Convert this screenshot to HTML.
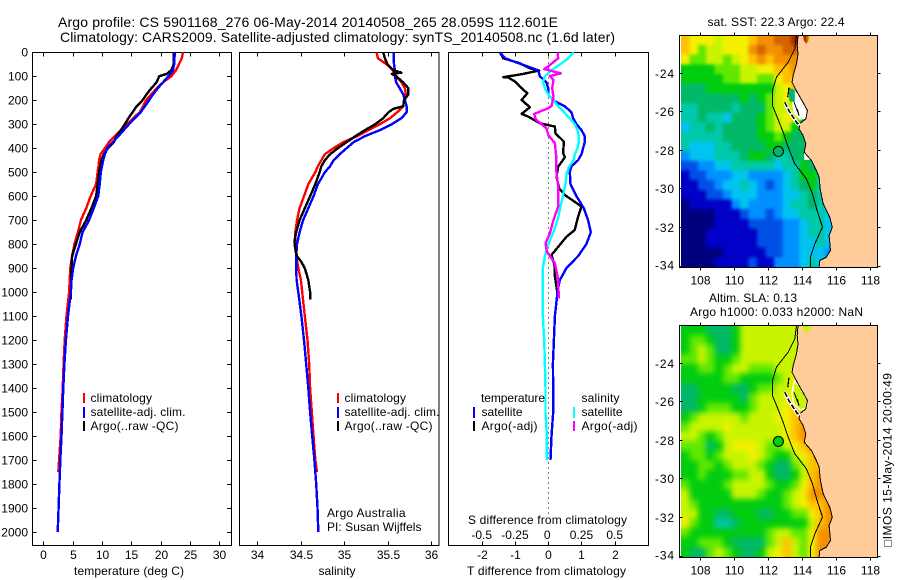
<!DOCTYPE html>
<html>
<head>
<meta charset="utf-8">
<title>Argo profile</title>
<style>
html,body{margin:0;padding:0;background:#fff;}
svg{display:block;}
text{font-family:"Liberation Sans",Arial,sans-serif;font-size:12px;fill:#000;}
</style>
</head>
<body>
<svg id="chart" width="900" height="580" viewBox="0 0 900 580" xmlns="http://www.w3.org/2000/svg">
<text x="58" y="27" style="font-size:14px" textLength="500">Argo profile: CS 5901168_276 06-May-2014 20140508_265 28.059S 112.601E</text>
<text x="60" y="42" style="font-size:14px" textLength="555">Climatology: CARS2009. Satellite-adjusted climatology: synTS_20140508.nc (1.6d later)</text>
<text x="74" y="575" textLength="110">temperature (deg C)</text>
<text x="318.5" y="575" textLength="37">salinity</text>
<text x="467" y="575" textLength="159">T difference from climatology</text>
<text x="468" y="524" textLength="159">S difference from climatology</text>
<text x="90.5" y="402" textLength="61.5">climatology</text>
<text x="90.5" y="416" textLength="95">satellite-adj. clim.</text>
<text x="90.5" y="430" textLength="88">Argo(..raw -QC)</text>
<text x="344.5" y="402" textLength="61.5">climatology</text>
<text x="344.5" y="416" textLength="95">satellite-adj. clim.</text>
<text x="344.5" y="430" textLength="88">Argo(..raw -QC)</text>
<text x="327" y="517" textLength="78.5">Argo Australia</text>
<text x="327" y="531" textLength="94.5">PI: Susan Wijffels</text>
<text x="481" y="402" textLength="64">temperature</text>
<text x="481.5" y="416" textLength="41">satellite</text>
<text x="481.5" y="430" textLength="56">Argo(-adj)</text>
<text x="581.5" y="402" textLength="38">salinity</text>
<text x="581.5" y="416" textLength="41">satellite</text>
<text x="581.5" y="430" textLength="56">Argo(-adj)</text>
<text x="707.5" y="26" textLength="137">sat. SST: 22.3 Argo: 22.4</text>
<text x="709" y="302" textLength="88">Altim. SLA: 0.13</text>
<text x="690" y="316" textLength="173">Argo h1000: 0.033 h2000: NaN</text>
<text transform="translate(891.5 547) rotate(-90)" textLength="174">□IMOS 15-May-2014 20:00:49</text>
</svg>
<script>
// ---- profile data ----
const depthTicks=[0,100,200,300,400,500,600,700,800,900,1000,1100,1200,1300,1400,1500,1600,1700,1800,1900,2000];
const tempTicks=[0,5,10,15,20,25,30];
const salTicks=[34,34.5,35,35.5,36];
const tDiffTicks=[-2,-1,0,1,2];
const sDiffTicks=[-0.5,-0.25,0,0.25,0.5];
const lonTicks=[108,110,112,114,116,118];
const latTicks=[-24,-26,-28,-30,-32,-34];

const climDepths=[0,25,50,75,100,125,150,175,200,225,250,275,300,325,350,375,400,425,450,475,500,550,600,650,700,750,800,850,900,950,1000,1100,1200,1300,1400,1500,1600,1700,1750,1800,1900,2000];
const climTemp=[23.8,23.6,23.1,22.6,21.8,20.4,19.3,18.4,17.5,17,16.4,15.3,14.3,13.2,12.2,11.2,10.5,9.75,9.5,9.4,9.25,9.0,8.05,7.3,6.4,5.9,5.3,4.9,4.6,4.5,4.4,3.95,3.65,3.45,3.3,3.1,2.96,2.7,2.55];
const satTemp=[22.4,22.35,22.3,22.1,21.3,20.4,19.5,18.7,18,17.3,16.6,15.6,14.6,13.7,12.8,11.8,10.9,10.5,10.2,10,9.8,9.6,9.35,8.6,7.8,6.7,6.2,5.55,5.1,4.8,4.7,4.2,3.85,3.6,3.4,3.25,3.1,2.9,2.82,2.75,2.6,2.45];
const climSal=[35.375,35.39,35.49,35.56,35.6,35.66,35.7,35.71,35.69,35.68,35.61,35.53,35.41,35.28,35.15,34.99,34.88,34.78,34.74,34.7,34.67,34.59,34.54,34.49,34.46,34.44,34.44,34.45,34.475,34.505,34.52,34.55,34.58,34.6,34.61,34.63,34.65,34.67,34.69];
const satSal=[35.57,35.57,35.575,35.585,35.585,35.6,35.64,35.68,35.7,35.72,35.72,35.66,35.55,35.41,35.24,35.11,35.03,34.95,34.88,34.84,34.78,34.7,34.65,34.59,34.53,34.49,34.46,34.45,34.45,34.455,34.475,34.51,34.54,34.565,34.59,34.61,34.635,34.66,34.67,34.68,34.695,34.705];
const argoTempDepths=[0,25,50,75,90,100,125,150,175,200,225,250,275,300,325,350,375,400,425,450,500,550,600,650,700,750,800,850,900,950,1000,1030];
const argoTemp=[22.2,22.2,22.2,21.8,21,19.75,19.3,18.4,17.6,16.9,15.9,15.2,14.5,13.9,13.2,12.5,12,11,10.3,9.9,9.5,9.25,9,8.2,7.3,6.2,5.55,4.9,4.8,4.75,4.7,4.65];
const argoSalDepths=[0,25,50,75,85,90,100,125,150,175,200,225,235,250,275,300,325,350,375,400,425,450,475,500,550,600,650,700,750,790,820,850,875,900,950,1000,1030];
const argoSal=[35.45,35.47,35.5,35.57,35.66,35.55,35.6,35.68,35.74,35.74,35.69,35.68,35.57,35.51,35.45,35.36,35.24,35.13,35.03,34.93,34.84,34.78,34.74,34.72,34.67,34.61,34.55,34.49,34.45,34.43,34.44,34.46,34.51,34.55,34.59,34.61,34.61];
const satTempDiff=[-1.45,-1.3,-0.8,-0.3,-0.25,-0.05,0,0,0.15,0.5,0.7,0.75,0.85,1,1.1,1.1,1.05,1,0.9,0.7,0.65,0.67,0.85,1.07,1.2,1.28,1.15,0.9,0.55,0.35,0.28,0.2,0.17,0.14,0.15,0.15,0.1,0.07];
const satSalDiff=[0.19,0.15,0.09,0.025,-0.025,-0.04,-0.025,0,0.04,0.075,0.12,0.16,0.2,0.22,0.23,0.23,0.22,0.2,0.19,0.16,0.14,0.13,0.11,0.09,0.07,0.04,0,-0.025,-0.04,-0.04,-0.04,-0.04,-0.03,-0.025,-0.02,-0.02,-0.01,-0.01];
const argoTempDiffDepths=[0,25,46,67,76,90,104,105,122,143,171,199,229,257,268,296,310,338,372,421,438,477,519,567,595,643,685,741,769,803,845,894,935,998,1025];
const argoTempDiff=[-1.45,-1.35,-0.85,-0.55,-0.27,-0.75,-1.35,-1.2,-1.0,-0.85,-0.63,-0.8,-0.55,-0.8,-0.6,-0.25,0.2,0.22,0.47,0.45,0.5,0.3,0.25,0.33,0.5,1.0,0.9,0.8,0.55,0.35,0.1,0.2,0.2,0.27,0.27];
const argoSalDiffDepths=[0,25,53,70,76,88,99,115,150,185,224,233,257,282,317,345,379,435,491,560,643,699,755,796,831,880,949,1026];
const argoSalDiff=[0.07,0.075,0.0125,-0.03,0.0125,0.095,0.0125,0.04,0.03,0.04,0.025,0,-0.105,-0.09,-0.0125,0,0.05,0.06,0.06,0.075,0.075,0.04,0.0125,-0.02,-0.01,0.05,0.075,0.08];

// ---- map data: colour-class per 0.5 degree cell, north to south ----
const sstGrid=[
[11,10,10,10,9,10,10,10,11,12,12,13,13,14,14,10,10,10],
[11,10,8,9,9,10,10,10,12,13,12,12,13,13,13,10,10,10],
[10,8,8,9,9,8,9,10,11,12,11,12,12,12,12,12,12,12],
[7,7,7,7,8,8,8,9,9,10,10,11,11,12,12,12,12,12],
[7,7,7,7,7,8,8,9,9,8,8,10,11,11,11,11,11,11],
[6,6,6,7,7,7,7,7,7,7,7,9,10,11,7,7,7,7],
[6,6,6,6,6,6,6,7,6,7,8,9,10,7,7,7,7,7],
[5,5,6,6,6,6,5,6,6,6,8,9,9,9,7,7,7,7],
[5,5,6,5,5,4,6,6,6,7,8,9,10,9,7,7,7,7],
[4,5,5,6,5,6,6,6,6,7,8,9,9,7,6,6,6,6],
[5,5,5,5,5,6,6,6,6,7,7,8,7,6,6,6,6,6],
[5,4,4,4,5,5,6,6,6,6,7,7,6,6,6,6,6,6],
[3,4,4,4,5,5,5,6,7,7,6,5,5,6,6,6,6,6],
[2,2,3,3,4,4,5,5,5,5,5,4,5,5,7,6,5,5],
[1,2,2,3,3,3,4,4,3,3,3,3,4,5,7,7,5,5],
[1,1,2,2,3,4,4,5,4,3,2,3,4,5,6,7,5,5],
[1,1,1,2,2,3,4,4,4,3,3,3,4,4,5,6,5,4],
[0,1,1,1,1,1,3,4,3,3,3,3,4,5,5,6,5,4],
[0,0,0,0,1,1,1,2,3,3,2,3,4,4,5,5,5,4],
[0,0,0,0,1,1,1,1,2,2,2,2,3,3,4,5,5,4],
[0,0,0,1,1,1,1,1,1,2,2,2,3,3,4,5,5,4],
[0,0,0,1,1,1,1,1,1,2,2,2,3,3,4,4,5,4],
[0,0,0,0,0,1,1,1,1,1,2,2,3,3,4,4,4,3],
[0,0,0,0,1,1,1,1,2,1,1,3,3,3,4,5,4,4]
];
const slaGrid=[
[7,7,7,6,6,6,7,9,9,9,9,9,9,9,9,9,9,9],
[7,8,8,7,6,6,7,9,9,9,9,9,9,9,9,9,9,9],
[7,8,9,8,6,6,7,9,9,9,9,9,9,9,9,9,9,9],
[8,8,9,8,7,7,8,9,9,9,9,9,9,9,9,9,9,9],
[7,7,8,8,7,8,9,9,8,8,8,9,9,9,9,9,9,9],
[7,7,7,7,7,8,8,7,7,7,7,8,9,10,9,9,9,9],
[6,6,7,7,7,7,6,6,7,8,8,9,9,10,9,9,9,9],
[6,6,7,7,7,7,7,6,8,9,9,9,10,10,10,9,9,9],
[6,6,7,8,8,8,7,7,8,9,9,9,10,11,10,9,9,9],
[7,8,9,9,9,9,9,8,9,9,9,10,10,11,11,11,11,11],
[8,9,9,9,9,10,9,9,9,9,9,9,10,11,12,12,12,12],
[9,9,8,7,8,9,9,9,9,9,9,9,10,11,12,12,12,12],
[8,8,8,6,7,9,10,10,10,9,8,8,9,10,11,12,12,12],
[7,8,8,7,8,9,9,9,10,9,8,7,7,9,10,11,12,12],
[7,7,8,8,7,8,9,9,9,8,7,6,6,8,9,11,11,12],
[7,7,8,7,7,7,8,8,9,9,7,6,6,7,9,11,12,12],
[8,7,7,7,7,8,9,9,9,9,8,7,7,8,10,11,12,12],
[9,7,7,7,7,7,9,9,9,8,7,7,8,9,10,12,12,12],
[9,8,7,7,7,7,7,7,7,7,7,7,8,9,10,11,11,12],
[9,9,7,7,6,6,7,7,7,6,6,7,7,8,8,10,11,12],
[10,8,7,7,5,5,6,7,7,7,7,7,7,7,7,9,11,12],
[8,7,7,7,7,7,7,7,7,7,8,9,9,8,8,10,12,12],
[7,7,8,8,8,7,6,6,6,6,8,9,11,9,8,10,12,12],
[7,6,6,8,9,8,7,6,6,7,9,10,11,9,8,10,12,12]
];
const gridPalette=['#00007f','#0000c8','#0050e6','#0090ff','#00c4f0','#00c8a8','#00b868','#00cc10','#60e800','#c8f400','#f4f000','#ffc000','#f49000','#d46400','#b02800'];
const sstArgoClass=6;
const slaArgoClass=7;
const argoLon=112.601;
const argoLat=-28.059;
const coastLon=[113.76,113.71,113.76,113.67,113.47,113.41,113.57,113.82,114.1,114.31,114.22,113.86,113.82,114.06,114.22,114.12,114.55,114.84,115.0,115.08,115.24,115.63,115.78,115.59,115.67,115.43,115.04,115.0];
const coastLat=[-22.08,-22.6,-23.03,-23.55,-24.16,-24.5,-24.79,-25.19,-25.62,-25.97,-26.4,-26.66,-26.92,-27.26,-27.7,-28.13,-28.56,-29.08,-29.42,-30.11,-30.8,-31.5,-32.01,-32.45,-33.22,-33.57,-33.74,-34.09];
const landEdgeLon=[118.41,118.41,114.55,114.39,114.25,114.1,114.06];
const landEdgeLat=[-34.09,-22.08,-22.08,-22.34,-22.51,-22.34,-22.08];
const contourLon=[113.67,113.57,113.18,112.49,112.25,112.25,112.53,112.88,113.18,113.57,114.25,114.61,114.88,115.2,114.75,114.49,114.49];
const contourLat=[-22.08,-22.77,-23.46,-24.24,-24.93,-25.71,-26.31,-27.09,-27.87,-28.73,-29.51,-30.29,-31.15,-32.01,-32.88,-33.57,-34.09];
const bayLon=[113.55,113.82,114.1,114.31,114.22,113.86,113.5,113.4];
const bayLat=[-24.95,-25.19,-25.62,-25.97,-26.4,-26.45,-26.1,-25.6];
const inletLon=[113.2,113.57,113.57,113.25];
const inletLat=[-24.79,-24.9,-25.55,-25.47];
const notchLon=[114.12,114.5,114.12];
const notchLat=[-28.13,-28.53,-28.53];
const islandLon=[112.98,113.22,113.42,113.72,113.86];
const islandLat=[-25.55,-25.98,-26.25,-26.65,-26.72];
const islandNorthLon=[113.22,113.18,113.15];
const islandNorthLat=[-24.79,-25.1,-25.28];
const bayInnerLon=[113.53,113.82,113.72];
const bayInnerLat=[-25.55,-26.24,-25.9];

// ---- axes ----
const svg=document.getElementById('chart');
const NS='http://www.w3.org/2000/svg';
const yDepth=d=>52.3+d*0.2398;
const xTemp=t=>43.3+t*5.87;
const xSal=s=>257+(s-34)*87;
const xTDiff=t=>548.2+t*33.25;
const xSDiff=s=>548.2+s*133;
const xLon=l=>700.3+(l-108)*16.97;
const yLat=(l,top)=>top+37+(-24-l)*19.3;

function make(tag,attrs,parent){
  const e=document.createElementNS(NS,tag);
  for(const k in attrs)e.setAttribute(k,attrs[k]);
  (parent||svg).appendChild(e);
  return e;
}
function pathFrom(xs,ys){
  return xs.map((x,i)=>(i?'L':'M')+x.toFixed(1)+' '+ys[i].toFixed(1)).join('');
}
function addProfile(name,values,depths,xFn,color){
  const xs=values.map(xFn);
  const ys=values.map((v,i)=>yDepth(depths[i]));
  const line=make('path',{d:pathFrom(xs,ys),fill:'none',stroke:color,'stroke-width':2.4,'stroke-linejoin':'round','shape-rendering':'crispEdges'});
  
  
}
function addFrame(name,x,y,w,h){
  const r=make('rect',{x:x,y:y,width:w,height:h,fill:'none',stroke:'#000','stroke-width':1,'shape-rendering':'crispEdges'});
  
  
}
function addTick(x1,y1,x2,y2){
  const t=make('line',{x1:x1,y1:y1,x2:x2,y2:y2,stroke:'#000','stroke-width':1,'shape-rendering':'crispEdges'});
  
  
}
function addLabel(str,x,y,anchor){
  const t=make('text',{x:x,y:y,'text-anchor':anchor||'middle'});
  t.textContent=str;
  
  
  return t;
}
function addStick(name,x,y1,y2,color){
  const s=make('line',{x1:x,y1:y1,x2:x,y2:y2,stroke:color,'stroke-width':2,'shape-rendering':'crispEdges'});
  
  
}

// ---- profile panels ----
const T=52.5,B=545.5;
addFrame('temperature-panel-frame',32.5,T,199,B-T);
addFrame('salinity-panel-frame',239.5,T,199.5,B-T);
addFrame('difference-panel-frame',448.5,T,200,B-T);

tempTicks.forEach(v=>{
  const x=Math.round(xTemp(v))+0.5;
  addTick(x,T,x,T+4);addTick(x,B,x,B-4);
  addLabel(String(v),x,559);
});
salTicks.forEach(v=>{
  const x=Math.round(xSal(v))+0.5;
  addTick(x,T,x,T+4);addTick(x,B,x,B-4);
  addLabel(String(v),x,559);
});
tDiffTicks.forEach(v=>{
  const x=Math.round(xTDiff(v))+0.5;
  addTick(x,T,x,T+4);addTick(x,B,x,B-4);
  addLabel(String(v),x,559);
});
sDiffTicks.forEach(v=>{
  addLabel(String(v),xSDiff(v)-(v===0?1:0),539);
});
depthTicks.forEach(v=>{
  const y=Math.round(yDepth(v))+0.5;
  addTick(32.5,y,36.5,y);addTick(231.5,y,227,y);
  addLabel(String(v),28,y+4,'end');
});

const zeroLine=make('line',{x1:548.5,y1:T,x2:548.5,y2:518,stroke:'#000','stroke-width':1,'stroke-dasharray':'1 4','shape-rendering':'crispEdges'});



addProfile('temperature-climatology-line',climTemp,climDepths,xTemp,'#ff0000');
addProfile('temperature-argo-line',argoTemp,argoTempDepths,xTemp,'#000000');
addProfile('temperature-satellite-line',satTemp,climDepths,xTemp,'#0000ff');
addProfile('salinity-climatology-line',climSal,climDepths,xSal,'#ff0000');
addProfile('salinity-satellite-line',satSal,climDepths,xSal,'#0000ff');
addProfile('salinity-argo-line',argoSal,argoSalDepths,xSal,'#000000');
addProfile('temperature-difference-argo-line',argoTempDiff,argoTempDiffDepths,xTDiff,'#000000');
addProfile('temperature-difference-satellite-line',satTempDiff,climDepths,xTDiff,'#0000ff');
addProfile('salinity-difference-satellite-line',satSalDiff,climDepths,xSDiff,'#00ffff');
addProfile('salinity-difference-argo-line',argoSalDiff,argoSalDiffDepths,xSDiff,'#ff00ff');

addStick('legend-swatch-climatology',84,393,403,'#ff0000');
addStick('legend-swatch-satellite',84,407,418,'#0000ff');
addStick('legend-swatch-argo',84,421,431,'#000000');
addStick('legend-swatch-climatology-salinity',338,393,403,'#ff0000');
addStick('legend-swatch-satellite-salinity',338,407,418,'#0000ff');
addStick('legend-swatch-argo-salinity',338,421,431,'#000000');
addStick('legend-swatch-t-satellite',474,407,418,'#0000ff');
addStick('legend-swatch-t-argo',474,421,431,'#000000');
addStick('legend-swatch-s-satellite',574,407,418,'#00ffff');
addStick('legend-swatch-s-argo',574,421,431,'#ff00ff');

// ---- maps ----
const defs=make('defs',{});
function drawMap(prefix,grid,top,argoClass,showBayFill,blur){
  const left=679.5,right=877.5,y0=top,y1=top+232;
  const bg=make('rect',{x:left,y:y0,width:right-left,height:y1-y0,fill:'#ffffff'});
  
  
  const clip=make('clipPath',{id:prefix+'-clip'},defs);
  make('rect',{x:681,y:y0,width:right-681,height:y1-y0},clip);
  const filter=make('filter',{id:prefix+'-smooth',x:'-5%',y:'-5%',width:'110%',height:'110%','color-interpolation-filters':'sRGB'},defs);
  make('feGaussianBlur',{stdDeviation:blur},filter);
  const clipGroup=make('g',{'clip-path':'url(#'+prefix+'-clip)'});
  
  
  const cellGroup=make('g',{filter:'url(#'+prefix+'-smooth)'},clipGroup);
  
  
  grid.forEach((row,r)=>{
    row.forEach((cls,c)=>{
      const lonW=106.85+c*0.5, latN=-22.08-r*0.5;
      let x=xLon(lonW), y=yLat(latN,top), w=8.7, h=9.85;
      if(c===0){x-=15;w+=15;}
      if(c===row.length-1){w+=15;}
      if(r===0){y-=15;h+=15;}
      if(r===grid.length-1){h+=15;}
      const cell=make('rect',{x:x.toFixed(1),y:y.toFixed(1),width:w,height:h,fill:gridPalette[cls],'shape-rendering':'crispEdges'},cellGroup);
      
      
    });
  });
  const cx=coastLon.concat(landEdgeLon).map(xLon);
  const cy=coastLat.concat(landEdgeLat).map(l=>yLat(l,top));
  const land=make('path',{d:pathFrom(cx,cy)+'Z',fill:'#ffcc99',stroke:'none'});
  
  
  const bayPts=pathFrom(bayLon.map(xLon),bayLat.map(l=>yLat(l,top)))+'Z';
  if(showBayFill){
    const bay=make('path',{d:bayPts,fill:'#ffffff',stroke:'none'});
    
    
    const inlet=make('path',{d:pathFrom(inletLon.map(xLon),inletLat.map(l=>yLat(l,top)))+'Z',fill:'#00b868',stroke:'none'});
    
    
    const notch=make('path',{d:pathFrom(notchLon.map(xLon),notchLat.map(l=>yLat(l,top)))+'Z',fill:'#ffffff',stroke:'none'});
    
    
  }else{
    const bay=make('path',{d:bayPts,fill:'#c8f400',stroke:'#ffffff','stroke-width':1.5});
    
    
  }
  const coast=make('path',{d:pathFrom(coastLon.map(xLon),coastLat.map(l=>yLat(l,top))),fill:'none',stroke:'#000','stroke-width':1,'shape-rendering':'crispEdges'});
  
  
  const contour=make('path',{d:pathFrom(contourLon.map(xLon),contourLat.map(l=>yLat(l,top))),fill:'none',stroke:'#000','stroke-width':1,'shape-rendering':'crispEdges'});
  
  
  const islandHalo=make('path',{d:pathFrom(islandLon.map(xLon),islandLat.map(l=>yLat(l,top))),fill:'none',stroke:'#fff','stroke-width':3.5});
  
  
  const island=make('path',{d:pathFrom(islandLon.map(xLon),islandLat.map(l=>yLat(l,top))),fill:'none',stroke:'#000','stroke-width':1.6,'stroke-dasharray':'5 2','shape-rendering':'crispEdges'});
  
  
  const islandN=make('path',{d:pathFrom(islandNorthLon.map(xLon),islandNorthLat.map(l=>yLat(l,top))),fill:'none',stroke:'#000','stroke-width':1.2,'shape-rendering':'crispEdges'});
  
  
  const inner=make('path',{d:pathFrom(bayInnerLon.map(xLon),bayInnerLat.map(l=>yLat(l,top))),fill:'none',stroke:'#000','stroke-width':1,'shape-rendering':'crispEdges'});
  
  
  const dot=make('circle',{cx:xLon(argoLon).toFixed(1),cy:(yLat(argoLat,top)+0.6).toFixed(1),r:5,fill:gridPalette[argoClass],stroke:'#000','stroke-width':1});
  
  
  addFrame(prefix+'-map-frame',left,y0,right-left,y1-y0);
  lonTicks.forEach(v=>{
    const x=Math.round(xLon(v))+0.5;
    addTick(x,y0,x,y0-3);addTick(x,y1,x,y1+3);
    addLabel(String(v),x,y1+17);
  });
  latTicks.forEach(v=>{
    const y=Math.round(yLat(v,top))+0.5;
    addTick(right,y,right+3,y);addTick(left,y,left+3,y);
    const lab=addLabel(String(v),655,Math.min(y+4.5,y1+2),'start');
    lab.setAttribute('textLength','19');
  });
}
drawMap('sst',sstGrid,35.5,sstArgoClass,true,1.6);
drawMap('sla',slaGrid,325.5,slaArgoClass,false,3);
</script>
</body>
</html>
